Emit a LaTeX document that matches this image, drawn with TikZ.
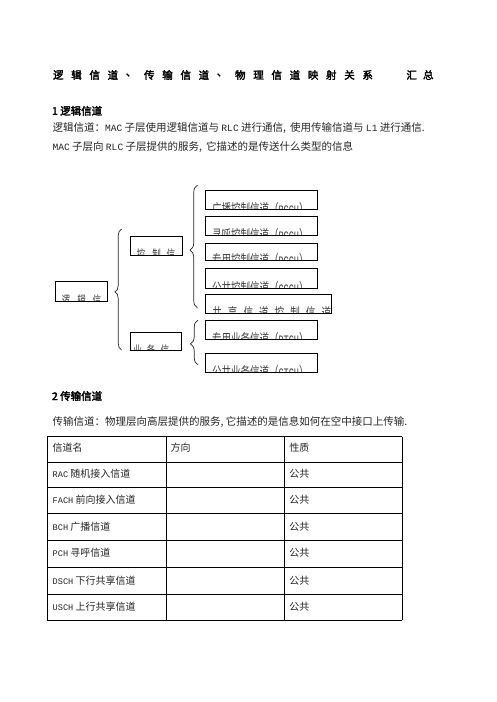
\documentclass[tikz,border=0pt]{standalone}
\usepackage{fontspec}
\usepackage{graphicx}
\setmainfont{Noto Sans CJK SC}
\newfontfamily\cjk{Noto Sans CJK SC}
\newfontfamily\cjkbold[FakeBold=2.5]{Noto Sans CJK SC}
\newfontfamily\latm{Liberation Mono}
\newcommand\Lt[1]{{\latm\fontsize{8.6}{10}\selectfont #1}}
\newcommand\Lb[1]{{\latm\fontsize{9.6}{10}\selectfont #1}}
\usetikzlibrary{decorations.pathreplacing}
\begin{document}
\begin{tikzpicture}[x=1pt,y=-1pt,
  every node/.style={inner sep=0pt, outer sep=0pt},
  ttl/.style={font=\cjkbold\fontsize{10.5}{12}\selectfont, text=black},
  hdr/.style={anchor=west, font=\cjkbold\fontsize{10.5}{12}\selectfont, text=black},
  body/.style={anchor=west, font=\cjk\fontsize{10.5}{12}\selectfont, text=black!85},
  cell/.style={anchor=west, font=\cjk\fontsize{10}{12}\selectfont, text=black!85},
  cut/.style={anchor=base west, font=\cjk\fontsize{9.5}{11}\selectfont, text=black!75},
  cutc/.style={anchor=base west, font=\cjk\fontsize{8.5}{10}\selectfont, text=black!75},
  boxd/.style={draw=black, line width=0.9pt, anchor=north west},
  tbl/.style={line width=0.8pt, draw=black}]
\useasboundingbox (0,0) rectangle (496,702);
\fill[white] (0,0) rectangle (496,702);

% title
\foreach \c [count=\i from 0] in {逻,辑,信,道,、,传,输,信,道,、,物,理,信,道,映,射,关,系}
  \node[ttl] (t\i) at ({58.3+18.2*\i},75) {\c};
\node[ttl] (t18) at (411.7,75) {汇};
\node[ttl] (t19) at (428.3,75) {总};

% section 1
\node[hdr] (h1) at (52,110.8) {1 逻辑信道};
\node[body] (p1) at (52.5,128.3) {逻辑信道：\Lb{MAC} 子层使用逻辑信道与 \Lb{RLC} 进行通信,\, 使用传输信道与 \Lb{L1} 进行通信.};
\node[body] (p2) at (52.5,146.8) {\Lb{MAC} 子层向 \Lb{RLC} 子层提供的服务,\, 它描述的是传送什么类型的信息};

% right boxes
\foreach \n/\ya/\yb/\t in {
  b1/190.7/209.5/广播控制信道（\Lt{BCCH}）,
  b2/216/235/寻呼控制信道（\Lt{PCCH}）,
  b3/243.3/260/专用控制信道（\Lt{DCCH}）,
  b4/268/288.3/公共控制信道（\Lt{CCCH}）,
  b6/320.5/339/专用业务信道（\Lt{DTCH}）,
  b7/353.3/372/公共业务信道（\Lt{CTCH}）}{
  \begin{scope}
    \clip (205,\ya) rectangle (317.3,\yb);
    \node[cut] (\n-t) at (212,\yb+5) {\scalebox{1}[1.5]{\t}};
  \end{scope}
  \node[boxd, minimum width=112.3pt, minimum height={(\yb-\ya)*1pt}] (\n) at (205,\ya) {};
}
% box 5 (spaced)
\begin{scope}
  \clip (205,294.3) rectangle (331.7,313.3);
  \foreach \c [count=\i from 0] in {共,享,信,道,控,制,信,道}
    \node[cut] (b5-\i) at ({212.3+15.6*\i},318.3) {\scalebox{1}[1.5]{\c}};
\end{scope}
\node[boxd, minimum width=126.7pt, minimum height=19pt] (b5) at (205,294.3) {};

% left boxes
\begin{scope}
  \clip (55.7,281) rectangle (107.3,301.7);
  \foreach \c/\x [count=\i] in {逻/61.7,辑/77.3,信/92.7}
    \node[cutc] (L-\i) at (\x,305.5) {\scalebox{1}[1.5]{\c}};
\end{scope}
\node[boxd, minimum width=51.6pt, minimum height=20.7pt] (L) at (55.7,281) {};

\begin{scope}
  \clip (130,236) rectangle (182.7,255);
  \foreach \c/\x [count=\i] in {控/136.7,制/152.3,信/166.7}
    \node[cutc] (K-\i) at (\x,259) {\scalebox{1}[1.5]{\c}};
\end{scope}
\node[boxd, minimum width=52.7pt, minimum height=19pt] (K) at (130,236) {};

\begin{scope}
  \clip (130.7,332) rectangle (181.7,350);
  \foreach \c/\x [count=\i] in {业/133.3,务/146.7,信/160.7}
    \node[cutc] (Y-\i) at (\x,355) {\scalebox{1}[1.5]{\c}};
\end{scope}
\node[boxd, minimum width=51pt, minimum height=18pt] (Y) at (130.7,332) {};

% braces
\coordinate (o1) at (121.5,350); \coordinate (o2) at (121.5,229);
\coordinate (c1) at (197.5,308); \coordinate (c2) at (197.5,185);
\coordinate (s1) at (198,365);   \coordinate (s2) at (198,320);
\draw[decorate, decoration={brace, amplitude=6.5pt, aspect=0.48}, line width=0.7pt, draw=black!85] (o1) -- (o2);
\draw[decorate, decoration={brace, amplitude=7.5pt, aspect=0.47}, line width=0.7pt, draw=black!85] (c1) -- (c2);
\draw[decorate, decoration={brace, amplitude=7.5pt, aspect=0.47}, line width=0.7pt, draw=black!85] (s1) -- (s2);

% section 2
\node[hdr] (h2) at (52,396) {2 传输信道};
\node[body] (p3) at (52.5,421.7) {传输信道：物理层向高层提供的服务, 它描述的是信息如何在空中接口上传输.};

% table
\foreach \y in {436.5,462,487.5,513.5,540,567,594,620}
  \draw[tbl] (47.3,\y) -- (402.3,\y);
\foreach \x in {47.3,166.7,284.3,402.3}
  \draw[tbl] (\x,436.5) -- (\x,620);
\node[cell] (r0a) at (52.7,448) {信道名};
\node[cell] (r0b) at (170.7,448) {方向};
\node[cell] (r0c) at (289.3,448) {性质};
\foreach \t/\y [count=\i] in {
  \Lt{RAC} 随机接入信道/474,
  \Lt{FACH} 前向接入信道/499.7,
  \Lt{BCH} 广播信道/526.5,
  \Lt{PCH} 寻呼信道/553,
  \Lt{DSCH} 下行共享信道/580.5,
  \Lt{USCH} 上行共享信道/607}{
  \node[cell] (r\i a) at (52.7,\y) {\t};
  \node[cell] (r\i c) at (289.3,\y) {公共};
}
\end{tikzpicture}
\end{document}
